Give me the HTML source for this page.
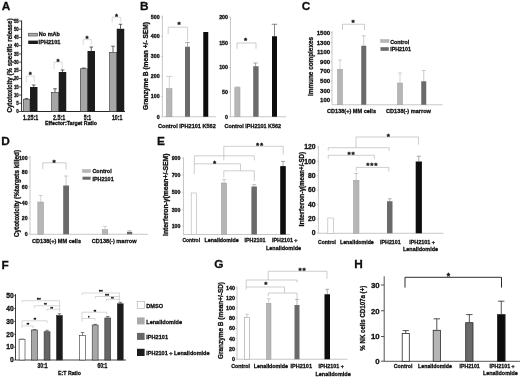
<!DOCTYPE html>
<html><head><meta charset="utf-8"><title>Figure</title>
<style>
html,body{margin:0;padding:0;background:#fff;}
body{width:520px;height:378px;overflow:hidden;}
svg{display:block;}
svg text{font-family:'Liberation Sans', sans-serif;font-weight:700;fill:#111;stroke:#111;stroke-width:0.3px;}
</style></head><body>
<svg width="520" height="378" viewBox="0 0 520 378">
<defs><filter id="soft" x="0" y="0" width="520" height="378" filterUnits="userSpaceOnUse"><feGaussianBlur stdDeviation="0.35"/></filter></defs>
<rect width="520" height="378" fill="#fff"/>
<g filter="url(#soft)">
<text x="1.70" y="9.90" font-size="11.8">A</text>
<path d="M21.6 20.5V111.5H125" stroke="#111" stroke-width="0.9" fill="none"/>
<path d="M18.80 111.50L21.60 111.50" stroke="#111" stroke-width="0.7" fill="none"/>
<text x="18.70" y="113.30" font-size="5.2" text-anchor="end" textLength="2.50" lengthAdjust="spacingAndGlyphs">0</text>
<path d="M18.80 103.27L21.60 103.27" stroke="#111" stroke-width="0.7" fill="none"/>
<text x="18.70" y="105.07" font-size="5.2" text-anchor="end" textLength="2.50" lengthAdjust="spacingAndGlyphs">5</text>
<path d="M18.80 95.05L21.60 95.05" stroke="#111" stroke-width="0.7" fill="none"/>
<text x="18.70" y="96.85" font-size="5.2" text-anchor="end" textLength="4.80" lengthAdjust="spacingAndGlyphs">10</text>
<path d="M18.80 86.82L21.60 86.82" stroke="#111" stroke-width="0.7" fill="none"/>
<text x="18.70" y="88.62" font-size="5.2" text-anchor="end" textLength="4.80" lengthAdjust="spacingAndGlyphs">15</text>
<path d="M18.80 78.59L21.60 78.59" stroke="#111" stroke-width="0.7" fill="none"/>
<text x="18.70" y="80.39" font-size="5.2" text-anchor="end" textLength="4.80" lengthAdjust="spacingAndGlyphs">20</text>
<path d="M18.80 70.36L21.60 70.36" stroke="#111" stroke-width="0.7" fill="none"/>
<text x="18.70" y="72.16" font-size="5.2" text-anchor="end" textLength="4.80" lengthAdjust="spacingAndGlyphs">25</text>
<path d="M18.80 62.14L21.60 62.14" stroke="#111" stroke-width="0.7" fill="none"/>
<text x="18.70" y="63.94" font-size="5.2" text-anchor="end" textLength="4.80" lengthAdjust="spacingAndGlyphs">30</text>
<path d="M18.80 53.91L21.60 53.91" stroke="#111" stroke-width="0.7" fill="none"/>
<text x="18.70" y="55.71" font-size="5.2" text-anchor="end" textLength="4.80" lengthAdjust="spacingAndGlyphs">35</text>
<path d="M18.80 45.68L21.60 45.68" stroke="#111" stroke-width="0.7" fill="none"/>
<text x="18.70" y="47.48" font-size="5.2" text-anchor="end" textLength="4.80" lengthAdjust="spacingAndGlyphs">40</text>
<path d="M18.80 37.45L21.60 37.45" stroke="#111" stroke-width="0.7" fill="none"/>
<text x="18.70" y="39.25" font-size="5.2" text-anchor="end" textLength="4.80" lengthAdjust="spacingAndGlyphs">45</text>
<path d="M18.80 29.23L21.60 29.23" stroke="#111" stroke-width="0.7" fill="none"/>
<text x="18.70" y="31.03" font-size="5.2" text-anchor="end" textLength="4.80" lengthAdjust="spacingAndGlyphs">50</text>
<path d="M18.80 21.00L21.60 21.00" stroke="#111" stroke-width="0.7" fill="none"/>
<text x="18.70" y="22.80" font-size="5.2" text-anchor="end" textLength="4.80" lengthAdjust="spacingAndGlyphs">55</text>
<path d="M26.50 99.25V98.50M24.70 98.50H28.30" stroke="#222" stroke-width="0.7" fill="none"/>
<path d="M33.75 87.00V85.00M31.95 85.00H35.55" stroke="#222" stroke-width="0.7" fill="none"/>
<rect x="23.30" y="99.25" width="6.70" height="12.25" fill="#a6a6a6" stroke="#333" stroke-width="0.6"/>
<rect x="30.00" y="87.00" width="7.50" height="24.50" fill="#1e1e1e"/>
<path d="M55.00 92.50V88.75M53.20 88.75H56.80" stroke="#222" stroke-width="0.7" fill="none"/>
<path d="M62.50 72.00V70.00M60.70 70.00H64.30" stroke="#222" stroke-width="0.7" fill="none"/>
<rect x="51.55" y="92.50" width="7.20" height="19.00" fill="#a6a6a6" stroke="#333" stroke-width="0.6"/>
<rect x="58.75" y="72.00" width="7.50" height="39.50" fill="#1e1e1e"/>
<path d="M83.75 68.75V68.00M81.95 68.00H85.55" stroke="#222" stroke-width="0.7" fill="none"/>
<path d="M91.25 51.00V47.00M89.45 47.00H93.05" stroke="#222" stroke-width="0.7" fill="none"/>
<rect x="80.30" y="68.75" width="7.20" height="42.75" fill="#a6a6a6" stroke="#333" stroke-width="0.6"/>
<rect x="87.50" y="51.00" width="7.50" height="60.50" fill="#1e1e1e"/>
<path d="M113.00 52.50V46.25M111.20 46.25H114.80" stroke="#222" stroke-width="0.7" fill="none"/>
<path d="M120.50 28.75V24.25M118.70 24.25H122.30" stroke="#222" stroke-width="0.7" fill="none"/>
<rect x="109.55" y="52.50" width="7.20" height="59.00" fill="#a6a6a6" stroke="#333" stroke-width="0.6"/>
<rect x="116.75" y="28.75" width="7.50" height="82.75" fill="#1e1e1e"/>
<path d="M26.30 82.40V76.00H34.20V82.40" stroke="#c4c4c4" stroke-width="0.6" fill="none"/>
<text x="30.20" y="77.28" font-size="7.8" text-anchor="middle" stroke-width="0.1">*</text>
<path d="M54.00 69.00V62.20H62.20V69.00" stroke="#c4c4c4" stroke-width="0.6" fill="none"/>
<text x="58.10" y="63.68" font-size="7.8" text-anchor="middle" stroke-width="0.1">*</text>
<path d="M83.20 44.80V39.60H91.30V44.80" stroke="#c4c4c4" stroke-width="0.6" fill="none"/>
<text x="87.10" y="40.68" font-size="7.8" text-anchor="middle" stroke-width="0.1">*</text>
<path d="M112.20 22.50V17.20H120.70V22.50" stroke="#c4c4c4" stroke-width="0.6" fill="none"/>
<text x="116.50" y="18.58" font-size="7.8" text-anchor="middle" stroke-width="0.1">*</text>
<text x="30.60" y="119.60" font-size="6.3" text-anchor="middle" textLength="15.00" lengthAdjust="spacingAndGlyphs">1.25:1</text>
<text x="59.20" y="119.60" font-size="6.3" text-anchor="middle" textLength="12.20" lengthAdjust="spacingAndGlyphs">2.5:1</text>
<text x="87.50" y="119.60" font-size="6.3" text-anchor="middle" textLength="7.40" lengthAdjust="spacingAndGlyphs">5:1</text>
<text x="117.10" y="119.60" font-size="6.3" text-anchor="middle" textLength="10.40" lengthAdjust="spacingAndGlyphs">10:1</text>
<text x="71.00" y="125.20" font-size="6.0" text-anchor="middle" textLength="52.00" lengthAdjust="spacingAndGlyphs">Effector:Target Ratio</text>
<text x="11.60" y="65.50" font-size="7.4" text-anchor="middle" textLength="94.00" lengthAdjust="spacingAndGlyphs" transform="rotate(-90 11.60 65.50)">Cytotoxicity (% specific release)</text>
<rect x="28.40" y="33.20" width="9.30" height="2.80" fill="#b0b0b0" stroke="#333" stroke-width="0.55"/>
<text x="38.80" y="36.30" font-size="5.9" textLength="21.20" lengthAdjust="spacingAndGlyphs">No mAb</text>
<rect x="28.20" y="40.60" width="9.70" height="3.40" fill="#1e1e1e"/>
<text x="38.60" y="44.20" font-size="5.9" textLength="21.80" lengthAdjust="spacingAndGlyphs">IPH2101</text>
<text x="140.00" y="9.80" font-size="11.8">B</text>
<path d="M162.4 15.5V116.75H216" stroke="#b0b0b0" stroke-width="0.7" fill="none"/>
<path d="M161.00 17.00L162.40 17.00" stroke="#b0b0b0" stroke-width="0.6" fill="none"/>
<text x="159.60" y="18.90" font-size="5.3" text-anchor="end" font-weight="400" stroke="none" fill="#3a3a3a">500</text>
<path d="M161.00 36.50L162.40 36.50" stroke="#b0b0b0" stroke-width="0.6" fill="none"/>
<text x="159.60" y="38.40" font-size="5.3" text-anchor="end" font-weight="400" stroke="none" fill="#3a3a3a">400</text>
<path d="M161.00 56.50L162.40 56.50" stroke="#b0b0b0" stroke-width="0.6" fill="none"/>
<text x="159.60" y="58.40" font-size="5.3" text-anchor="end" font-weight="400" stroke="none" fill="#3a3a3a">300</text>
<path d="M161.00 76.25L162.40 76.25" stroke="#b0b0b0" stroke-width="0.6" fill="none"/>
<text x="159.60" y="78.15" font-size="5.3" text-anchor="end" font-weight="400" stroke="none" fill="#3a3a3a">200</text>
<path d="M161.00 96.50L162.40 96.50" stroke="#b0b0b0" stroke-width="0.6" fill="none"/>
<text x="159.60" y="98.40" font-size="5.3" text-anchor="end" font-weight="400" stroke="none" fill="#3a3a3a">100</text>
<path d="M161.00 116.75L162.40 116.75" stroke="#b0b0b0" stroke-width="0.6" fill="none"/>
<text x="159.60" y="118.65" font-size="5.3" text-anchor="end" font-weight="400" stroke="none" fill="#3a3a3a">0</text>
<path d="M169.30 88.60V76.40M166.10 76.40H172.50" stroke="#b0b0b0" stroke-width="0.6" fill="none"/>
<rect x="166.40" y="88.60" width="5.60" height="28.15" fill="#b6b6b6" stroke="#9c9c9c" stroke-width="0.5"/>
<path d="M187.50 46.75V42.50M185.20 42.50H189.80" stroke="#888" stroke-width="0.7" fill="none"/>
<rect x="185.00" y="46.75" width="5.00" height="70.00" fill="#6a6a6a"/>
<rect x="203.25" y="32.00" width="5.00" height="84.75" fill="#0a0a0a"/>
<path d="M168.20 34.10V27.20H187.60V41.00" stroke="#b0b0b0" stroke-width="0.6" fill="none"/>
<text x="179.00" y="27.13" font-size="8.1" text-anchor="middle" stroke-width="0.1">*</text>
<text x="158.00" y="127.80" font-size="6.05" textLength="57.75" lengthAdjust="spacingAndGlyphs">Control IPH2101 K562</text>
<text x="148.30" y="66.00" font-size="6.6" text-anchor="middle" textLength="88.00" lengthAdjust="spacingAndGlyphs" transform="rotate(-90 148.30 66.00)">Granzyme B (mean +/- SEM)</text>
<path d="M230.5 17V116.75H286" stroke="#b0b0b0" stroke-width="0.7" fill="none"/>
<path d="M229.00 17.00L230.50 17.00" stroke="#b0b0b0" stroke-width="0.6" fill="none"/>
<text x="228.00" y="18.90" font-size="5.3" text-anchor="end" font-weight="400" stroke="none" fill="#3a3a3a">200</text>
<path d="M229.00 43.00L230.50 43.00" stroke="#b0b0b0" stroke-width="0.6" fill="none"/>
<text x="228.00" y="44.90" font-size="5.3" text-anchor="end" font-weight="400" stroke="none" fill="#3a3a3a">150</text>
<path d="M229.00 67.50L230.50 67.50" stroke="#b0b0b0" stroke-width="0.6" fill="none"/>
<text x="228.00" y="69.40" font-size="5.3" text-anchor="end" font-weight="400" stroke="none" fill="#3a3a3a">100</text>
<path d="M229.00 92.00L230.50 92.00" stroke="#b0b0b0" stroke-width="0.6" fill="none"/>
<text x="228.00" y="93.90" font-size="5.3" text-anchor="end" font-weight="400" stroke="none" fill="#3a3a3a">50</text>
<path d="M229.00 116.75L230.50 116.75" stroke="#b0b0b0" stroke-width="0.6" fill="none"/>
<text x="228.00" y="118.65" font-size="5.3" text-anchor="end" font-weight="400" stroke="none" fill="#3a3a3a">0</text>
<path d="M237.40 87.50V86.80M235.40 86.80H239.40" stroke="#b0b0b0" stroke-width="0.6" fill="none"/>
<rect x="234.80" y="87.50" width="5.20" height="29.25" fill="#b6b6b6" stroke="#9c9c9c" stroke-width="0.5"/>
<path d="M255.50 66.25V63.00M253.20 63.00H257.80" stroke="#888" stroke-width="0.7" fill="none"/>
<rect x="253.20" y="66.25" width="5.40" height="50.50" fill="#6a6a6a"/>
<path d="M274.50 36.25V24.25M271.70 24.25H277.30" stroke="#555" stroke-width="0.7" fill="none"/>
<rect x="272.00" y="36.25" width="5.00" height="80.50" fill="#0a0a0a"/>
<path d="M237.00 48.75V43.00H256.00V48.75" stroke="#aaa" stroke-width="0.6" fill="none"/>
<text x="245.50" y="42.88" font-size="8.1" text-anchor="middle" stroke-width="0.1">*</text>
<text x="224.50" y="127.80" font-size="6.05" textLength="56.50" lengthAdjust="spacingAndGlyphs">Control IPH2101 K562</text>
<text x="301.80" y="9.80" font-size="11.8">C</text>
<path d="M332 31V104.75H442.5" stroke="#b0b0b0" stroke-width="0.7" fill="none"/>
<path d="M330.60 32.50L332.00 32.50" stroke="#b0b0b0" stroke-width="0.6" fill="none"/>
<text x="330.20" y="34.60" font-size="6.05" text-anchor="end" font-weight="400" stroke="none" fill="#333">1500</text>
<path d="M330.60 42.50L332.00 42.50" stroke="#b0b0b0" stroke-width="0.6" fill="none"/>
<text x="330.20" y="44.60" font-size="6.05" text-anchor="end" font-weight="400" stroke="none" fill="#333">1300</text>
<path d="M330.60 52.00L332.00 52.00" stroke="#b0b0b0" stroke-width="0.6" fill="none"/>
<text x="330.20" y="54.10" font-size="6.05" text-anchor="end" font-weight="400" stroke="none" fill="#333">1100</text>
<path d="M330.60 61.50L332.00 61.50" stroke="#b0b0b0" stroke-width="0.6" fill="none"/>
<text x="330.20" y="63.60" font-size="6.05" text-anchor="end" font-weight="400" stroke="none" fill="#333">900</text>
<path d="M330.60 70.50L332.00 70.50" stroke="#b0b0b0" stroke-width="0.6" fill="none"/>
<text x="330.20" y="72.60" font-size="6.05" text-anchor="end" font-weight="400" stroke="none" fill="#333">700</text>
<path d="M330.60 81.00L332.00 81.00" stroke="#b0b0b0" stroke-width="0.6" fill="none"/>
<text x="330.20" y="83.10" font-size="6.05" text-anchor="end" font-weight="400" stroke="none" fill="#333">500</text>
<path d="M330.60 90.50L332.00 90.50" stroke="#b0b0b0" stroke-width="0.6" fill="none"/>
<text x="330.20" y="92.60" font-size="6.05" text-anchor="end" font-weight="400" stroke="none" fill="#333">300</text>
<path d="M330.60 99.75L332.00 99.75" stroke="#b0b0b0" stroke-width="0.6" fill="none"/>
<text x="330.20" y="101.85" font-size="6.05" text-anchor="end" font-weight="400" stroke="none" fill="#333">100</text>
<path d="M340.00 69.25V60.00M338.00 60.00H342.00" stroke="#aaa" stroke-width="0.5" fill="none"/>
<rect x="337.50" y="69.25" width="5.00" height="35.50" fill="#b6b6b6" stroke="#9c9c9c" stroke-width="0.5"/>
<path d="M363.75 45.75V35.75M361.75 35.75H365.75" stroke="#999" stroke-width="0.5" fill="none"/>
<rect x="361.25" y="45.75" width="5.00" height="59.00" fill="#6a6a6a"/>
<path d="M400.00 83.00V73.00M398.00 73.00H402.00" stroke="#aaa" stroke-width="0.5" fill="none"/>
<rect x="397.50" y="83.00" width="5.00" height="21.75" fill="#b6b6b6" stroke="#9c9c9c" stroke-width="0.5"/>
<path d="M423.75 81.25V70.50M421.75 70.50H425.75" stroke="#999" stroke-width="0.5" fill="none"/>
<rect x="421.25" y="81.25" width="5.00" height="23.50" fill="#6a6a6a"/>
<path d="M342.50 30.00V24.25H364.50V30.00" stroke="#aaa" stroke-width="0.6" fill="none"/>
<text x="353.00" y="25.13" font-size="8.1" text-anchor="middle" stroke-width="0.1">*</text>
<text x="327.00" y="113.30" font-size="6.05" textLength="49.00" lengthAdjust="spacingAndGlyphs">CD138(+) MM cells</text>
<text x="386.00" y="113.30" font-size="6.05" textLength="45.00" lengthAdjust="spacingAndGlyphs">CD138(-) marrow</text>
<text x="313.30" y="66.50" font-size="6.8" text-anchor="middle" textLength="59.00" lengthAdjust="spacingAndGlyphs" transform="rotate(-90 313.30 66.50)">Immune complexes</text>
<rect x="380.60" y="39.60" width="8.40" height="2.90" fill="#b6b6b6" stroke="#9c9c9c" stroke-width="0.4"/>
<text x="390.20" y="43.60" font-size="6.2" textLength="19.00" lengthAdjust="spacingAndGlyphs">Control</text>
<rect x="380.50" y="47.20" width="8.30" height="3.60" fill="#6a6a6a"/>
<text x="390.20" y="51.10" font-size="6.2" textLength="20.80" lengthAdjust="spacingAndGlyphs">IPH2101</text>
<text x="1.20" y="145.20" font-size="11.8">D</text>
<path d="M30 156V234.3H148" stroke="#b0b0b0" stroke-width="0.7" fill="none"/>
<path d="M28.60 157.50L30.00 157.50" stroke="#b0b0b0" stroke-width="0.6" fill="none"/>
<text x="27.60" y="159.70" font-size="5.2" text-anchor="end" font-weight="400" stroke="none" fill="#3a3a3a">100</text>
<path d="M28.60 171.75L30.00 171.75" stroke="#b0b0b0" stroke-width="0.6" fill="none"/>
<text x="27.60" y="173.95" font-size="5.2" text-anchor="end" font-weight="400" stroke="none" fill="#3a3a3a">80</text>
<path d="M28.60 186.75L30.00 186.75" stroke="#b0b0b0" stroke-width="0.6" fill="none"/>
<text x="27.60" y="188.95" font-size="5.2" text-anchor="end" font-weight="400" stroke="none" fill="#3a3a3a">60</text>
<path d="M28.60 203.00L30.00 203.00" stroke="#b0b0b0" stroke-width="0.6" fill="none"/>
<text x="27.60" y="205.20" font-size="5.2" text-anchor="end" font-weight="400" stroke="none" fill="#3a3a3a">40</text>
<path d="M28.60 218.25L30.00 218.25" stroke="#b0b0b0" stroke-width="0.6" fill="none"/>
<text x="27.60" y="220.45" font-size="5.2" text-anchor="end" font-weight="400" stroke="none" fill="#3a3a3a">20</text>
<path d="M28.60 234.00L30.00 234.00" stroke="#b0b0b0" stroke-width="0.6" fill="none"/>
<text x="27.60" y="236.20" font-size="5.2" text-anchor="end" font-weight="400" stroke="none" fill="#3a3a3a">0</text>
<path d="M40.70 202.00V195.50M38.70 195.50H42.70" stroke="#aaa" stroke-width="0.5" fill="none"/>
<rect x="37.80" y="202.00" width="5.80" height="32.30" fill="#b6b6b6" stroke="#9c9c9c" stroke-width="0.5"/>
<path d="M66.10 185.50V176.00M64.10 176.00H68.10" stroke="#999" stroke-width="0.5" fill="none"/>
<rect x="63.20" y="185.50" width="5.80" height="48.80" fill="#6a6a6a"/>
<path d="M105.00 229.70V226.30M103.00 226.30H107.00" stroke="#aaa" stroke-width="0.5" fill="none"/>
<rect x="102.20" y="229.70" width="5.60" height="4.60" fill="#b6b6b6" stroke="#9c9c9c" stroke-width="0.5"/>
<path d="M129.60 231.80V230.60M127.60 230.60H131.60" stroke="#aaa" stroke-width="0.6" fill="none"/>
<rect x="127.00" y="231.80" width="5.20" height="2.50" fill="#6a6a6a"/>
<path d="M42.80 169.30V162.80H66.10V169.50" stroke="#aaa" stroke-width="0.6" fill="none"/>
<text x="54.20" y="164.73" font-size="8.1" text-anchor="middle" stroke-width="0.1">*</text>
<text x="32.00" y="242.50" font-size="6.05" textLength="49.00" lengthAdjust="spacingAndGlyphs">CD138(+) MM cells</text>
<text x="91.80" y="242.50" font-size="6.05" textLength="44.75" lengthAdjust="spacingAndGlyphs">CD138(-) marrow</text>
<text x="18.70" y="193.50" font-size="6.5" text-anchor="middle" textLength="87.00" lengthAdjust="spacingAndGlyphs" transform="rotate(-90 18.70 193.50)">Cytotoxicity (%targets killed)</text>
<rect x="82.60" y="169.60" width="7.90" height="2.90" fill="#b6b6b6" stroke="#9c9c9c" stroke-width="0.4"/>
<text x="92.40" y="173.20" font-size="6.2" textLength="19.30" lengthAdjust="spacingAndGlyphs">Control</text>
<rect x="82.50" y="176.70" width="8.10" height="3.00" fill="#6a6a6a"/>
<text x="92.40" y="180.60" font-size="6.2" textLength="21.30" lengthAdjust="spacingAndGlyphs">IPH2101</text>
<text x="156.90" y="144.80" font-size="11.8">E</text>
<path d="M183.5 157.5V234.5H290" stroke="#b0b0b0" stroke-width="0.7" fill="none"/>
<path d="M182.10 158.20L183.50 158.20" stroke="#b0b0b0" stroke-width="0.6" fill="none"/>
<text x="180.40" y="160.10" font-size="5.2" text-anchor="end" font-weight="400" stroke="none" fill="#3a3a3a">900</text>
<path d="M182.10 175.00L183.50 175.00" stroke="#b0b0b0" stroke-width="0.6" fill="none"/>
<text x="180.40" y="176.90" font-size="5.2" text-anchor="end" font-weight="400" stroke="none" fill="#3a3a3a">700</text>
<path d="M182.10 192.30L183.50 192.30" stroke="#b0b0b0" stroke-width="0.6" fill="none"/>
<text x="180.40" y="194.20" font-size="5.2" text-anchor="end" font-weight="400" stroke="none" fill="#3a3a3a">500</text>
<path d="M182.10 209.70L183.50 209.70" stroke="#b0b0b0" stroke-width="0.6" fill="none"/>
<text x="180.40" y="211.60" font-size="5.2" text-anchor="end" font-weight="400" stroke="none" fill="#3a3a3a">300</text>
<path d="M182.10 225.90L183.50 225.90" stroke="#b0b0b0" stroke-width="0.6" fill="none"/>
<text x="180.40" y="227.80" font-size="5.2" text-anchor="end" font-weight="400" stroke="none" fill="#3a3a3a">100</text>
<rect x="191.20" y="193.00" width="5.40" height="41.50" fill="#fff" stroke="#b4b4b4" stroke-width="0.6"/>
<path d="M224.10 183.00V179.50M222.10 179.50H226.10" stroke="#bbb" stroke-width="0.7" fill="none"/>
<rect x="221.30" y="183.00" width="5.40" height="51.50" fill="#b6b6b6" stroke="#9c9c9c" stroke-width="0.5"/>
<path d="M254.10 186.50V184.60M252.10 184.60H256.10" stroke="#999" stroke-width="0.6" fill="none"/>
<rect x="251.40" y="186.50" width="5.50" height="48.00" fill="#6a6a6a"/>
<path d="M283.00 166.10V161.40M281.00 161.40H285.00" stroke="#888" stroke-width="0.7" fill="none"/>
<rect x="280.20" y="166.10" width="5.60" height="68.40" fill="#0a0a0a"/>
<path d="M223.80 160.40V146.30H283.20V154.60" stroke="#adadad" stroke-width="0.6" fill="none"/>
<path d="M194.30 174.00V155.80H254.30V160.40" stroke="#adadad" stroke-width="0.6" fill="none"/>
<path d="M194.30 163.80H240.50V170.80" stroke="#adadad" stroke-width="0.6" fill="none"/>
<path d="M223.80 177.70V170.80H254.30V181.00" stroke="#adadad" stroke-width="0.6" fill="none"/>
<text x="260.02" y="148.33" font-size="8.1" text-anchor="middle" stroke-width="0.1" letter-spacing="0.85">**</text>
<text x="214.60" y="165.63" font-size="8.1" text-anchor="middle" stroke-width="0.1">*</text>
<text x="182.50" y="241.60" font-size="6.05" textLength="17.50" lengthAdjust="spacingAndGlyphs">Control</text>
<text x="204.50" y="241.60" font-size="6.05" textLength="34.25" lengthAdjust="spacingAndGlyphs">Lenalidomide</text>
<text x="244.50" y="241.60" font-size="6.05" textLength="21.00" lengthAdjust="spacingAndGlyphs">IPH2101</text>
<text x="272.00" y="241.60" font-size="6.05" textLength="25.50" lengthAdjust="spacingAndGlyphs">IPH2101 +</text>
<text x="266.00" y="250.10" font-size="6.05" textLength="35.00" lengthAdjust="spacingAndGlyphs">Lenalidomide</text>
<text x="168.00" y="194.75" font-size="6.5" text-anchor="middle" textLength="82.50" lengthAdjust="spacingAndGlyphs" transform="rotate(-90 168.00 194.75)">Interferon-γ(mean+/-SEM)</text>
<path d="M318.4 146V233.3H443.4" stroke="#b0b0b0" stroke-width="0.7" fill="none"/>
<path d="M317.00 147.00L318.40 147.00" stroke="#b0b0b0" stroke-width="0.6" fill="none"/>
<text x="315.60" y="149.40" font-size="6.8" text-anchor="end" font-weight="400" stroke="none" fill="#3a3a3a">120</text>
<path d="M317.00 161.25L318.40 161.25" stroke="#b0b0b0" stroke-width="0.6" fill="none"/>
<text x="315.60" y="163.65" font-size="6.8" text-anchor="end" font-weight="400" stroke="none" fill="#3a3a3a">100</text>
<path d="M317.00 175.75L318.40 175.75" stroke="#b0b0b0" stroke-width="0.6" fill="none"/>
<text x="315.60" y="178.15" font-size="6.8" text-anchor="end" font-weight="400" stroke="none" fill="#3a3a3a">80</text>
<path d="M317.00 190.00L318.40 190.00" stroke="#b0b0b0" stroke-width="0.6" fill="none"/>
<text x="315.60" y="192.40" font-size="6.8" text-anchor="end" font-weight="400" stroke="none" fill="#3a3a3a">60</text>
<path d="M317.00 204.25L318.40 204.25" stroke="#b0b0b0" stroke-width="0.6" fill="none"/>
<text x="315.60" y="206.65" font-size="6.8" text-anchor="end" font-weight="400" stroke="none" fill="#3a3a3a">40</text>
<path d="M317.00 218.75L318.40 218.75" stroke="#b0b0b0" stroke-width="0.6" fill="none"/>
<text x="315.60" y="221.15" font-size="6.8" text-anchor="end" font-weight="400" stroke="none" fill="#3a3a3a">20</text>
<path d="M317.00 233.00L318.40 233.00" stroke="#b0b0b0" stroke-width="0.6" fill="none"/>
<text x="315.60" y="235.40" font-size="6.8" text-anchor="end" font-weight="400" stroke="none" fill="#3a3a3a">0</text>
<rect x="327.80" y="218.00" width="5.60" height="15.30" fill="#fff" stroke="#b4b4b4" stroke-width="0.6"/>
<path d="M356.20 180.30V173.50M354.20 173.50H358.20" stroke="#aaa" stroke-width="0.6" fill="none"/>
<rect x="353.40" y="180.30" width="5.60" height="53.00" fill="#b6b6b6" stroke="#9c9c9c" stroke-width="0.5"/>
<path d="M389.75 201.25V198.75M387.75 198.75H391.75" stroke="#999" stroke-width="0.7" fill="none"/>
<rect x="387.00" y="201.25" width="5.50" height="32.05" fill="#6a6a6a"/>
<path d="M418.80 161.50V156.20M416.60 156.20H421.00" stroke="#888" stroke-width="0.7" fill="none"/>
<rect x="415.70" y="161.50" width="6.20" height="71.80" fill="#0a0a0a"/>
<path d="M356.00 147.70V137.00H418.50V144.60" stroke="#adadad" stroke-width="0.6" fill="none"/>
<path d="M328.25 150.50V147.70H389.20V151.00" stroke="#adadad" stroke-width="0.6" fill="none"/>
<path d="M328.25 158.75V155.30H374.40V159.20" stroke="#adadad" stroke-width="0.6" fill="none"/>
<path d="M356.20 171.50V167.40H388.80V171.50" stroke="#adadad" stroke-width="0.6" fill="none"/>
<text x="388.25" y="139.13" font-size="8.1" text-anchor="middle" stroke-width="0.1">*</text>
<text x="351.47" y="156.73" font-size="8.1" text-anchor="middle" stroke-width="0.1" letter-spacing="0.85">**</text>
<text x="372.22" y="168.33" font-size="8.1" text-anchor="middle" stroke-width="0.1" letter-spacing="0.85">***</text>
<text x="318.00" y="243.80" font-size="6.05" textLength="18.00" lengthAdjust="spacingAndGlyphs">Control</text>
<text x="340.00" y="243.80" font-size="6.05" textLength="33.75" lengthAdjust="spacingAndGlyphs">Lenalidomide</text>
<text x="380.00" y="243.80" font-size="6.05" textLength="20.75" lengthAdjust="spacingAndGlyphs">IPH2101</text>
<text x="409.20" y="243.80" font-size="6.05" textLength="25.80" lengthAdjust="spacingAndGlyphs">IPH2101 +</text>
<text x="403.00" y="251.40" font-size="6.05" textLength="35.00" lengthAdjust="spacingAndGlyphs">Lenalidomide</text>
<text x="304.00" y="207.00" font-size="7" text-anchor="middle" textLength="39.00" lengthAdjust="spacingAndGlyphs" transform="rotate(-90 304.00 207.00)">Interferon-γ</text>
<text x="303.70" y="170.00" font-size="6.3" text-anchor="middle" textLength="36.00" lengthAdjust="spacingAndGlyphs" transform="rotate(-90 303.70 170.00)">(mean+/-SD)</text>
<text x="1.40" y="268.60" font-size="11.8">F</text>
<path d="M15.5 294V360H126" stroke="#111" stroke-width="0.8" fill="none"/>
<path d="M14.00 360.00L15.50 360.00" stroke="#111" stroke-width="0.6" fill="none"/>
<text x="13.80" y="362.30" font-size="6.7" text-anchor="end" font-weight="400" stroke="none" fill="#2a2a2a">0</text>
<path d="M14.00 347.13L15.50 347.13" stroke="#111" stroke-width="0.6" fill="none"/>
<text x="13.80" y="349.43" font-size="6.7" text-anchor="end" font-weight="400" stroke="none" fill="#2a2a2a">10</text>
<path d="M14.00 334.26L15.50 334.26" stroke="#111" stroke-width="0.6" fill="none"/>
<text x="13.80" y="336.56" font-size="6.7" text-anchor="end" font-weight="400" stroke="none" fill="#2a2a2a">20</text>
<path d="M14.00 321.39L15.50 321.39" stroke="#111" stroke-width="0.6" fill="none"/>
<text x="13.80" y="323.69" font-size="6.7" text-anchor="end" font-weight="400" stroke="none" fill="#2a2a2a">30</text>
<path d="M14.00 308.52L15.50 308.52" stroke="#111" stroke-width="0.6" fill="none"/>
<text x="13.80" y="310.82" font-size="6.7" text-anchor="end" font-weight="400" stroke="none" fill="#2a2a2a">40</text>
<path d="M14.00 295.65L15.50 295.65" stroke="#111" stroke-width="0.6" fill="none"/>
<text x="13.80" y="297.95" font-size="6.7" text-anchor="end" font-weight="400" stroke="none" fill="#2a2a2a">50</text>
<path d="M22.05 339.25V339.00M20.25 339.00H23.85" stroke="#333" stroke-width="0.6" fill="none"/>
<rect x="19.10" y="339.25" width="5.90" height="20.75" fill="#fff" stroke="#333" stroke-width="0.6"/>
<path d="M34.55 330.00V329.50M32.75 329.50H36.35" stroke="#333" stroke-width="0.6" fill="none"/>
<rect x="31.60" y="330.00" width="5.90" height="30.00" fill="#a8a8a8" stroke="#333" stroke-width="0.6"/>
<path d="M47.05 331.75V330.30M45.25 330.30H48.85" stroke="#333" stroke-width="0.6" fill="none"/>
<rect x="44.10" y="331.75" width="5.90" height="28.25" fill="#666" stroke="#333" stroke-width="0.6"/>
<path d="M59.45 315.50V313.80M57.65 313.80H61.25" stroke="#333" stroke-width="0.6" fill="none"/>
<rect x="56.50" y="315.50" width="5.90" height="44.50" fill="#1c1c1c" stroke="#333" stroke-width="0.6"/>
<path d="M82.55 335.50V332.50M80.75 332.50H84.35" stroke="#333" stroke-width="0.6" fill="none"/>
<rect x="79.60" y="335.50" width="5.90" height="24.50" fill="#fff" stroke="#333" stroke-width="0.6"/>
<path d="M95.15 325.00V324.30M93.35 324.30H96.95" stroke="#333" stroke-width="0.6" fill="none"/>
<rect x="92.20" y="325.00" width="5.90" height="35.00" fill="#a8a8a8" stroke="#333" stroke-width="0.6"/>
<path d="M107.75 318.00V316.50M105.95 316.50H109.55" stroke="#333" stroke-width="0.6" fill="none"/>
<rect x="104.80" y="318.00" width="5.90" height="42.00" fill="#666" stroke="#333" stroke-width="0.6"/>
<path d="M120.25 303.75V302.30M118.45 302.30H122.05" stroke="#333" stroke-width="0.6" fill="none"/>
<rect x="117.30" y="303.75" width="5.90" height="56.25" fill="#1c1c1c" stroke="#333" stroke-width="0.6"/>
<path d="M22.00 302.50V300.70H59.60V312.00" stroke="#b0b0b0" stroke-width="0.5" fill="none"/>
<path d="M34.20 308.00V305.80H59.60" stroke="#b0b0b0" stroke-width="0.5" fill="none"/>
<path d="M47.00 311.00V309.20H59.60" stroke="#b0b0b0" stroke-width="0.5" fill="none"/>
<path d="M22.00 328.00V320.80H47.00V323.00" stroke="#b0b0b0" stroke-width="0.5" fill="none"/>
<path d="M22.00 326.00H33.00V328.00" stroke="#b0b0b0" stroke-width="0.5" fill="none"/>
<text x="38.83" y="301.13" font-size="2.8" text-anchor="middle" stroke-width="0.1" fill="#777" letter-spacing="0.15">***</text>
<text x="45.58" y="306.23" font-size="2.8" text-anchor="middle" stroke-width="0.1" fill="#777" letter-spacing="0.15">**</text>
<text x="51.83" y="309.63" font-size="2.8" text-anchor="middle" stroke-width="0.1" fill="#777" letter-spacing="0.15">**</text>
<text x="35.08" y="321.23" font-size="2.8" text-anchor="middle" stroke-width="0.1" fill="#777" letter-spacing="0.15">**</text>
<text x="28.07" y="326.43" font-size="2.8" text-anchor="middle" stroke-width="0.1" fill="#777" letter-spacing="0.15">**</text>
<path d="M82.00 295.00V293.00H119.60V302.00" stroke="#b0b0b0" stroke-width="0.5" fill="none"/>
<path d="M95.40 298.50V296.50H119.60" stroke="#b0b0b0" stroke-width="0.5" fill="none"/>
<path d="M106.50 301.00V299.30H119.60" stroke="#b0b0b0" stroke-width="0.5" fill="none"/>
<path d="M82.00 322.00V312.20H106.50V314.50" stroke="#b0b0b0" stroke-width="0.5" fill="none"/>
<path d="M82.00 318.50H95.00V320.80" stroke="#b0b0b0" stroke-width="0.5" fill="none"/>
<text x="100.83" y="293.43" font-size="2.8" text-anchor="middle" stroke-width="0.1" fill="#777" letter-spacing="0.15">***</text>
<text x="107.08" y="296.93" font-size="2.8" text-anchor="middle" stroke-width="0.1" fill="#777" letter-spacing="0.15">***</text>
<text x="112.58" y="299.73" font-size="2.8" text-anchor="middle" stroke-width="0.1" fill="#777" letter-spacing="0.15">**</text>
<text x="95.08" y="312.63" font-size="2.8" text-anchor="middle" stroke-width="0.1" fill="#777" letter-spacing="0.15">**</text>
<text x="88.75" y="318.93" font-size="2.8" text-anchor="middle" stroke-width="0.1" fill="#777">*</text>
<text x="42.60" y="367.90" font-size="6.7" text-anchor="middle" textLength="10.00" lengthAdjust="spacingAndGlyphs">30:1</text>
<text x="102.40" y="367.90" font-size="6.7" text-anchor="middle" textLength="10.00" lengthAdjust="spacingAndGlyphs">60:1</text>
<text x="69.50" y="374.60" font-size="6.05" text-anchor="middle" textLength="23.00" lengthAdjust="spacingAndGlyphs">E:T Ratio</text>
<rect x="137.20" y="301.40" width="7.20" height="7.20" fill="#fff" stroke="#aaa" stroke-width="0.6"/>
<text x="146.25" y="307.80" font-size="6.0" textLength="16.75" lengthAdjust="spacingAndGlyphs">DMSO</text>
<rect x="137.00" y="317.40" width="7.60" height="7.00" fill="#aaa"/>
<text x="146.25" y="323.90" font-size="6.2" textLength="35.75" lengthAdjust="spacingAndGlyphs">Lenalidomide</text>
<rect x="137.00" y="332.90" width="7.60" height="7.00" fill="#666"/>
<text x="146.25" y="339.40" font-size="6.2" textLength="21.75" lengthAdjust="spacingAndGlyphs">IPH2101</text>
<rect x="137.00" y="348.80" width="7.60" height="7.20" fill="#1c1c1c"/>
<text x="146.25" y="354.70" font-size="6.2" textLength="63.25" lengthAdjust="spacingAndGlyphs">IPH2101 + Lenalidomide</text>
<text x="214.20" y="267.90" font-size="11.8">G</text>
<path d="M237 286.5V359.25H347.5" stroke="#b0b0b0" stroke-width="0.7" fill="none"/>
<path d="M235.50 288.00L237.00 288.00" stroke="#b0b0b0" stroke-width="0.6" fill="none"/>
<text x="235.00" y="289.90" font-size="5.4" text-anchor="end" font-weight="400" stroke="none" fill="#3a3a3a">140</text>
<path d="M235.50 297.70L237.00 297.70" stroke="#b0b0b0" stroke-width="0.6" fill="none"/>
<text x="235.00" y="299.60" font-size="5.4" text-anchor="end" font-weight="400" stroke="none" fill="#3a3a3a">120</text>
<path d="M235.50 308.00L237.00 308.00" stroke="#b0b0b0" stroke-width="0.6" fill="none"/>
<text x="235.00" y="309.90" font-size="5.4" text-anchor="end" font-weight="400" stroke="none" fill="#3a3a3a">100</text>
<path d="M235.50 318.00L237.00 318.00" stroke="#b0b0b0" stroke-width="0.6" fill="none"/>
<text x="235.00" y="319.90" font-size="5.4" text-anchor="end" font-weight="400" stroke="none" fill="#3a3a3a">80</text>
<path d="M235.50 328.50L237.00 328.50" stroke="#b0b0b0" stroke-width="0.6" fill="none"/>
<text x="235.00" y="330.40" font-size="5.4" text-anchor="end" font-weight="400" stroke="none" fill="#3a3a3a">60</text>
<path d="M235.50 338.75L237.00 338.75" stroke="#b0b0b0" stroke-width="0.6" fill="none"/>
<text x="235.00" y="340.65" font-size="5.4" text-anchor="end" font-weight="400" stroke="none" fill="#3a3a3a">40</text>
<path d="M235.50 348.75L237.00 348.75" stroke="#b0b0b0" stroke-width="0.6" fill="none"/>
<text x="235.00" y="350.65" font-size="5.4" text-anchor="end" font-weight="400" stroke="none" fill="#3a3a3a">20</text>
<path d="M235.50 359.25L237.00 359.25" stroke="#b0b0b0" stroke-width="0.6" fill="none"/>
<text x="235.00" y="361.15" font-size="5.4" text-anchor="end" font-weight="400" stroke="none" fill="#3a3a3a">0</text>
<path d="M247.00 317.50V314.25M245.20 314.25H248.80" stroke="#bbb" stroke-width="0.7" fill="none"/>
<rect x="244.50" y="317.50" width="5.00" height="41.75" fill="#fff" stroke="#aaa" stroke-width="0.7"/>
<path d="M268.75 303.25V298.75M266.95 298.75H270.55" stroke="#bbb" stroke-width="0.7" fill="none"/>
<rect x="266.30" y="303.25" width="4.70" height="56.00" fill="#b6b6b6" stroke="#9c9c9c" stroke-width="0.5"/>
<path d="M297.00 305.00V299.50M295.20 299.50H298.80" stroke="#999" stroke-width="0.7" fill="none"/>
<rect x="294.50" y="305.00" width="5.00" height="54.25" fill="#6a6a6a"/>
<path d="M327.25 294.25V289.25M325.45 289.25H329.05" stroke="#888" stroke-width="0.7" fill="none"/>
<rect x="324.50" y="294.25" width="5.50" height="65.00" fill="#0a0a0a"/>
<path d="M268.25 280.00V271.25H327.00V278.75" stroke="#adadad" stroke-width="0.6" fill="none"/>
<path d="M246.25 289.50V280.00H297.00V282.50" stroke="#adadad" stroke-width="0.6" fill="none"/>
<path d="M246.25 287.00H284.50V293.00" stroke="#adadad" stroke-width="0.6" fill="none"/>
<path d="M268.25 296.25V293.00H297.00V300.00" stroke="#adadad" stroke-width="0.6" fill="none"/>
<text x="302.42" y="272.88" font-size="8.1" text-anchor="middle" stroke-width="0.1" letter-spacing="0.85">**</text>
<text x="265.75" y="287.38" font-size="8.1" text-anchor="middle" stroke-width="0.1">*</text>
<text x="231.25" y="368.10" font-size="6.05" textLength="18.75" lengthAdjust="spacingAndGlyphs">Control</text>
<text x="253.75" y="368.10" font-size="6.05" textLength="34.25" lengthAdjust="spacingAndGlyphs">Lenalidomide</text>
<text x="290.50" y="368.10" font-size="6.05" textLength="21.50" lengthAdjust="spacingAndGlyphs">IPH2101</text>
<text x="318.50" y="368.10" font-size="6.05" textLength="25.30" lengthAdjust="spacingAndGlyphs">IPH2101 +</text>
<text x="315.40" y="375.60" font-size="6.05" textLength="35.40" lengthAdjust="spacingAndGlyphs">Lenalidomide</text>
<text x="223.30" y="320.50" font-size="6.8" text-anchor="middle" textLength="77.00" lengthAdjust="spacingAndGlyphs" transform="rotate(-90 223.30 320.50)">Granzyme B (mean+/-SD)</text>
<text x="354.20" y="268.00" font-size="11.8">H</text>
<path d="M384.2 276.3V361.3H520" stroke="#2a2a2a" stroke-width="0.8" fill="none"/>
<path d="M381.00 285.00L384.20 285.00" stroke="#2a2a2a" stroke-width="0.8" fill="none"/>
<text x="379.60" y="287.80" font-size="7.8" text-anchor="end" font-weight="400" stroke="none" fill="#3a3a3a">30</text>
<path d="M381.00 310.75L384.20 310.75" stroke="#2a2a2a" stroke-width="0.8" fill="none"/>
<text x="379.60" y="313.55" font-size="7.8" text-anchor="end" font-weight="400" stroke="none" fill="#3a3a3a">20</text>
<path d="M381.00 336.50L384.20 336.50" stroke="#2a2a2a" stroke-width="0.8" fill="none"/>
<text x="379.60" y="339.30" font-size="7.8" text-anchor="end" font-weight="400" stroke="none" fill="#3a3a3a">10</text>
<path d="M381.00 361.20L384.20 361.20" stroke="#2a2a2a" stroke-width="0.8" fill="none"/>
<text x="379.60" y="364.00" font-size="7.8" text-anchor="end" font-weight="400" stroke="none" fill="#3a3a3a">0</text>
<path d="M405.75 333.50V330.60M402.55 330.60H408.95" stroke="#2a2a2a" stroke-width="0.8" fill="none"/>
<rect x="402.20" y="333.50" width="7.10" height="27.80" fill="#fff" stroke="#2a2a2a" stroke-width="0.8"/>
<path d="M436.80 330.30V318.80M433.60 318.80H440.00" stroke="#2a2a2a" stroke-width="0.8" fill="none"/>
<rect x="433.20" y="330.30" width="7.20" height="31.00" fill="#b5b5b5" stroke="#2a2a2a" stroke-width="0.8"/>
<path d="M469.35 322.70V314.60M466.15 314.60H472.55" stroke="#2a2a2a" stroke-width="0.8" fill="none"/>
<rect x="465.70" y="322.70" width="7.30" height="38.60" fill="#6a6a6a" stroke="#2a2a2a" stroke-width="0.8"/>
<path d="M501.25 314.60V301.20M498.05 301.20H504.45" stroke="#2a2a2a" stroke-width="0.8" fill="none"/>
<rect x="497.40" y="314.60" width="7.70" height="46.70" fill="#0a0a0a" stroke="#2a2a2a" stroke-width="0.8"/>
<path d="M405.00 287.60V277.30H501.50V287.60" stroke="#2a2a2a" stroke-width="1.0" fill="none"/>
<text x="448.50" y="278.59" font-size="8.6" text-anchor="middle" stroke-width="0.1">*</text>
<text x="393.75" y="368.10" font-size="6.05" textLength="18.75" lengthAdjust="spacingAndGlyphs">Control</text>
<text x="418.00" y="368.10" font-size="6.05" textLength="34.00" lengthAdjust="spacingAndGlyphs">Lenalidomide</text>
<text x="459.50" y="368.10" font-size="6.05" textLength="20.20" lengthAdjust="spacingAndGlyphs">IPH2101</text>
<text x="489.50" y="368.10" font-size="6.05" textLength="25.20" lengthAdjust="spacingAndGlyphs">IPH2101 +</text>
<text x="483.00" y="375.30" font-size="6.05" textLength="34.70" lengthAdjust="spacingAndGlyphs">Lenalidomide</text>
<text x="365.20" y="318.20" font-size="6.8" text-anchor="middle" textLength="65.00" lengthAdjust="spacingAndGlyphs" transform="rotate(-90 365.20 318.20)">% NK cells CD107a (+)</text>
</g>
</svg>
</body></html>
